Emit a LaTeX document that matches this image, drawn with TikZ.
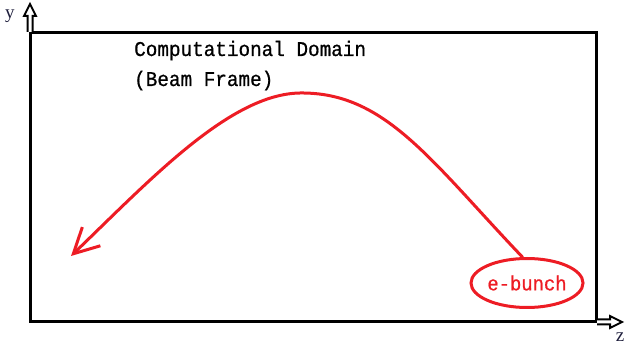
\documentclass[tikz,border=0pt]{standalone}
\usepackage{fontspec}
\setmainfont{Liberation Serif}
\newfontfamily\monofont[FakeStretch=0.92,FakeBold=0.7]{Liberation Mono}
\usetikzlibrary{arrows.meta,shapes.geometric}
\definecolor{myred}{RGB}{237,28,36}
\tikzset{
  frame/.style={line width=3pt, draw=black},
  hollowarrow/.style={line width=2pt, draw=black, fill=white, line join=miter},
  curvestyle/.style={line width=3pt, draw=myred, line cap=round},
  bunch/.style={ellipse, draw=myred, line width=3pt, minimum width=109pt, minimum height=49pt, inner sep=0pt, text=myred, font=\monofont\fontsize{20.5}{20.5}\selectfont},
  domtext/.style={anchor=base west, inner sep=0pt, font=\monofont\fontsize{21}{21}\selectfont},
  axlabel/.style={inner sep=0pt, font=\fontsize{19}{19}\selectfont, text={rgb,255:red,30;green,30;blue,60}}
}
\begin{document}
\begin{tikzpicture}[x=1pt,y=-1pt]
\useasboundingbox (0,0) rectangle (626,344);
% domain frame
\draw[frame] (30,33) rectangle (596,322);
% hollow y axis arrow
\draw[hollowarrow] (27.5,32) -- (27.5,16) -- (24,16) -- (30,4) -- (36,16) -- (32.5,16) -- (32.5,32);
% hollow z axis arrow
\draw[hollowarrow] (597,319.5) -- (610,319.5) -- (610,316) -- (622,322) -- (610,328) -- (610,324.5) -- (597,324.5);
\node[axlabel] (ylab) at (10,16) {y};
\node[axlabel] (zlab) at (620,337) {z};
% texts
\node[domtext] (t1) at (134,56) {Computational Domain};
\node[domtext] (t2) at (134,86) {(Beam Frame)};
% e-bunch
\node[bunch] (eb) at (527,283) {e-bunch};
\coordinate (tip) at (71,256);
\draw[curvestyle, -{Straight Barb[length=25pt,width=26pt,line width=3pt]}]
  (eb.100) .. controls (430,160) and (385,92) .. (300,93)
  .. controls (230,94) and (150,180) .. (tip);
\end{tikzpicture}
\end{document}
